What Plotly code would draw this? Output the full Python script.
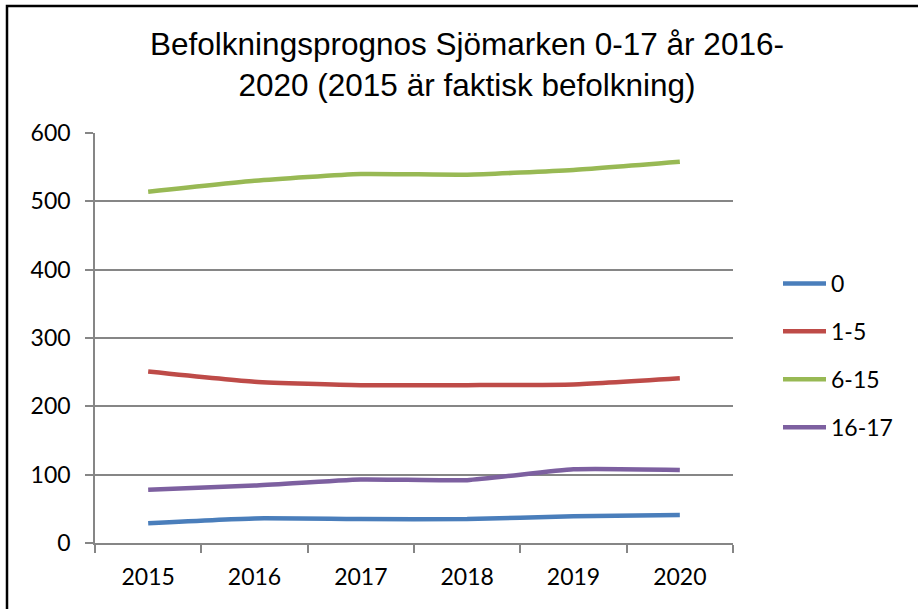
import plotly.graph_objects as go

years = ["2015", "2016", "2017", "2018", "2019", "2020"]
s_0 = [29, 36, 35, 35, 39, 41]
s_1_5 = [251, 236, 231, 231, 232, 241]
s_6_15 = [514, 530, 540, 539, 546, 558]
s_16_17 = [78, 84, 93, 92, 108, 107]

series_names = ["0", "1-5", "6-15", "16-17"]
series_values = [s_0, s_1_5, s_6_15, s_16_17]
series_colors = ["#4A7EBB", "#BE4B48", "#98B954", "#7D60A0"]

W, H = 918, 609
ML, MR, MT, MB = 95, 185, 133, 66

fig = go.Figure()
for i, (name, vals, col) in enumerate(zip(series_names, series_values, series_colors)):
    fig.add_trace(go.Scatter(
        x=years, y=vals, name=name, mode="lines",
        line=dict(color=col, width=4.5, shape="spline", smoothing=0.5),
        legendgroup=f"g{i}",
    ))

axis_gray = "#868686"
tick_font = dict(family="Lato, Carlito, Calibri, sans-serif", size=23, color="#000000")

fig.update_layout(
    width=W, height=H,
    margin=dict(l=ML, r=MR, t=MT, b=MB),
    paper_bgcolor="white", plot_bgcolor="white",
    title=dict(
        text="Befolkningsprognos Sjömarken 0-17 år 2016-<br>2020 (2015 är faktisk befolkning)",
        font=dict(family="Liberation Sans, Arial, sans-serif", size=31.5, color="#000000"),
        x=467 / W, xanchor="center", y=1 - 55 / H, yanchor="top",
    ),
    showlegend=True,
    legend=dict(
        x=(778 - ML) / (W - ML - MR), xanchor="left",
        y=(H - MB - 262) / (H - MT - MB), yanchor="top",
        font=tick_font, bgcolor="rgba(0,0,0,0)",
        traceorder="grouped", tracegroupgap=15,
        itemwidth=43,
    ),
    xaxis=dict(
        type="category", range=[-0.5, 5.5],
        showline=True, linecolor=axis_gray, linewidth=1.5,
        ticks="outside", tickson="boundaries", ticklen=8, tickcolor=axis_gray, tickwidth=1.5,
        showgrid=False, zeroline=False,
        tickfont=tick_font, ticklabelstandoff=13,
    ),
    yaxis=dict(
        range=[0, 600], dtick=100,
        showline=True, linecolor=axis_gray, linewidth=1.5,
        ticks="outside", ticklen=8, tickcolor=axis_gray, tickwidth=1.5,
        showgrid=True, gridcolor=axis_gray, gridwidth=1.5,
        zeroline=False,
        tickfont=tick_font, ticklabelstandoff=10,
    ),
)

# outer chart border (top and left visible; right/bottom fall outside the picture)
pw = W - ML - MR
ph = H - MT - MB
fig.add_shape(type="rect", xref="paper", yref="paper",
              x0=(7 - ML) / pw, x1=(W + 20 - ML) / pw,
              y0=(-MB - 20) / ph, y1=(H - MB - 6) / ph,
              line=dict(color="black", width=2.5), fillcolor="rgba(0,0,0,0)",
              layer="above")

fig.write_html(
    "out.html",
    config={"displayModeBar": False},
    post_script="document.body.style.margin='0';document.body.style.overflow='hidden';",
)
